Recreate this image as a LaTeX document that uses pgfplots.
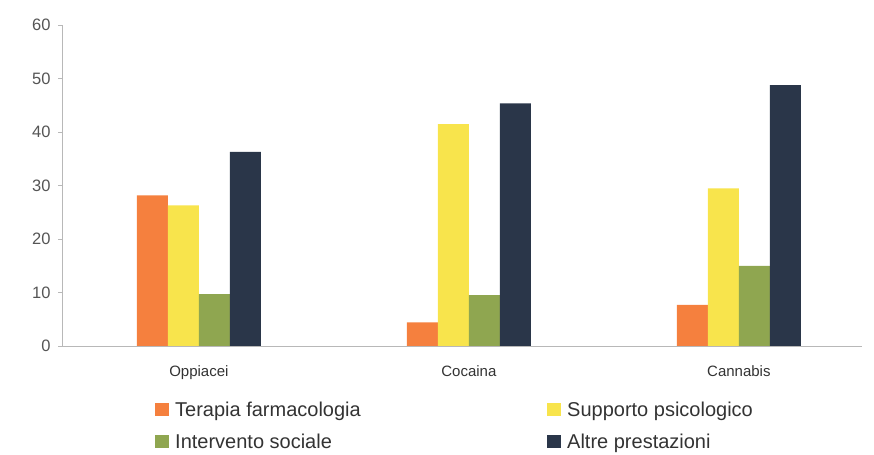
\documentclass[border=0pt]{standalone}
\usepackage{fontspec}
\setmainfont{Liberation Sans}
\usepackage{pgfplots}
\pgfplotsset{compat=1.18}
\definecolor{cOr}{HTML}{F5803E}
\definecolor{cYe}{HTML}{F8E44C}
\definecolor{cGr}{HTML}{8FA650}
\definecolor{cNa}{HTML}{2A3649}
\definecolor{tickgrey}{HTML}{555555}
\definecolor{leggrey}{HTML}{333333}
\definecolor{axgrey}{HTML}{B8B8B8}
\begin{document}
\begin{tikzpicture}
\path[use as bounding box] (0,0) rectangle (874bp,455bp);
\begin{axis}[
  at={(62bp,109bp)}, anchor=south west,
  width=800bp, height=320.7bp, scale only axis,
  xmin=-0.507, xmax=2.456, ymin=0, ymax=60,
  axis x line*=bottom, axis y line*=left,
  axis line style={draw=axgrey, line width=0.8bp, -},
  ytick={0,10,20,30,40,50,60},
  xtick={0,1,2},
  xticklabels={Oppiacei,Cocaina,Cannabis},
  tick align=outside,
  major tick length=4bp,
  ytick style={draw=axgrey, line width=0.8bp},
  xtick style={draw=none},
  /pgf/number format/assume math mode=true,
  yticklabel style={font=\fontsize{16.5bp}{18bp}\selectfont, text=tickgrey, xshift=-4bp},
  xticklabel style={font=\fontsize{15bp}{17bp}\selectfont, text=leggrey, yshift=-12bp},
  ybar, bar width=31bp,
  legend columns=2,
  legend cell align=left,
  legend image code/.code={\fill[#1,draw=none] (0bp,-5bp) rectangle (14bp,8bp);},
  legend style={draw=none, fill=none, at={(0.1125,-0.1684)}, anchor=north west,
    font=\fontsize{20bp}{22bp}\selectfont, text=leggrey,
    nodes={inner sep=0pt, text height=14bp, text depth=4bp},
    /tikz/every odd column/.style={column sep=6bp},
    row sep=14bp},
]
\addplot[fill=cOr, draw=none, bar shift=-46.5bp] coordinates {(0,28.2) (1,4.4) (2,7.7)};
\addplot[fill=cYe, draw=none, bar shift=-15.5bp] coordinates {(0,26.3) (1,41.5) (2,29.5)};
\addplot[fill=cGr, draw=none, bar shift=15.5bp] coordinates {(0,9.7) (1,9.5) (2,15.0)};
\addplot[fill=cNa, draw=none, bar shift=46.5bp] coordinates {(0,36.3) (1,45.4) (2,48.8)};
\legend{\makebox[372bp][l]{Terapia farmacologia}, Supporto psicologico, \makebox[372bp][l]{Intervento sociale}, Altre prestazioni}
\end{axis}
\end{tikzpicture}
\end{document}
